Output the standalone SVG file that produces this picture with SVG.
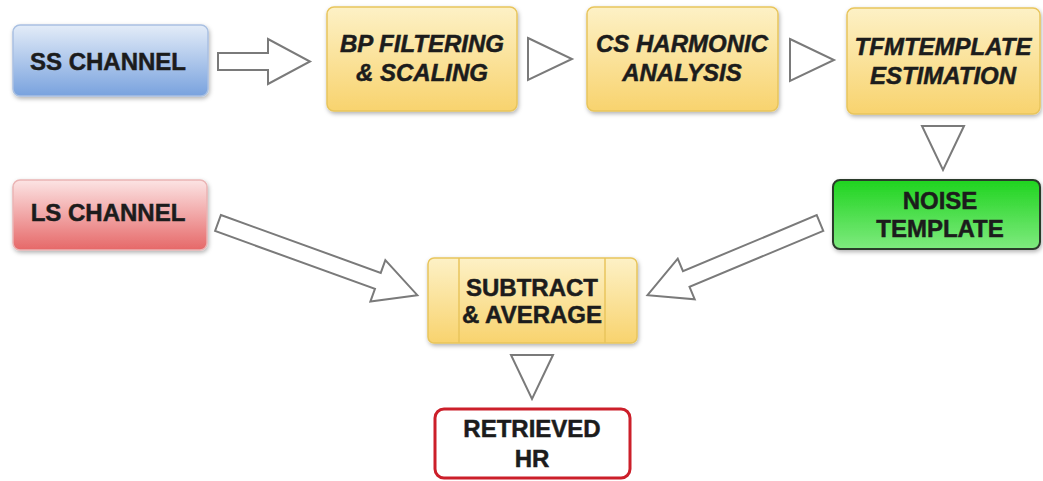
<svg xmlns="http://www.w3.org/2000/svg" width="1043" height="481" viewBox="0 0 1043 481">
<defs>
<linearGradient id="gY" x1="0" y1="0" x2="0" y2="1"><stop offset="0" stop-color="#fdf1c6"/><stop offset="1" stop-color="#f8d36e"/></linearGradient>
<linearGradient id="gB" x1="0" y1="0" x2="0" y2="1"><stop offset="0" stop-color="#e3ecf8"/><stop offset="1" stop-color="#79a2de"/></linearGradient>
<linearGradient id="gR" x1="0" y1="0" x2="0" y2="1"><stop offset="0" stop-color="#fce4e4"/><stop offset="1" stop-color="#e66868"/></linearGradient>
<linearGradient id="gG" x1="0" y1="0" x2="0" y2="1"><stop offset="0" stop-color="#1fd41f"/><stop offset="1" stop-color="#7fea7f"/></linearGradient>
<filter id="sh" x="-10%" y="-10%" width="120%" height="130%"><feDropShadow dx="1" dy="2" stdDeviation="2" flood-color="#000" flood-opacity="0.3"/></filter>
<polygon id="tri" points="0,0 44,21 0,42"/>
</defs>
<style>
text{font-family:"Liberation Sans",Arial,sans-serif;font-weight:bold;font-size:24px;fill:#1c1c1c;stroke:#1c1c1c;stroke-width:0.5;text-anchor:middle}
.it{font-style:italic}
.y{fill:url(#gY);stroke:#e8c55c;stroke-width:1.5}
.arr{fill:#fff;stroke:#7a7a7a;stroke-width:2;stroke-linejoin:miter}
</style>
<g id="connectors">
<polygon class="arr" transform="translate(218,61.5)" points="0,-8.5 50,-8.5 50,-22.5 92,0 50,22.5 50,8.5 0,8.5"/>
<use href="#tri" class="arr" transform="translate(528,38)"/>
<use href="#tri" class="arr" transform="translate(790,39)"/>
<use href="#tri" class="arr" transform="translate(922,126) rotate(90) translate(0,-42)"/>
<polygon class="arr" transform="translate(218,223) rotate(19.9)" points="0,-8.5 170,-8.5 170,-22 212,0 170,22 170,8.5 0,8.5"/>
<polygon class="arr" transform="translate(820,223) rotate(157.3)" points="0,-8.5 145,-8.5 145,-22 187,0 145,22 145,8.5 0,8.5"/>
<use href="#tri" class="arr" transform="translate(512,355) rotate(90) translate(0,-41)"/>
</g>
<g id="ss">
<rect x="13" y="25" width="195" height="71" rx="7" fill="url(#gB)" stroke="#a9c0e2" stroke-width="1.5" filter="url(#sh)"/>
<text x="108" y="70">SS CHANNEL</text>
</g>
<g id="bp">
<rect class="y" x="327" y="7" width="190" height="104" rx="7" filter="url(#sh)"/>
<text class="it" x="422" y="52">BP FILTERING</text>
<text class="it" x="422" y="81">&amp; SCALING</text>
</g>
<g id="cs">
<rect class="y" x="587" y="7" width="191" height="104" rx="7" filter="url(#sh)"/>
<text class="it" x="682" y="52">CS HARMONIC</text>
<text class="it" x="682" y="81">ANALYSIS</text>
</g>
<g id="tfm">
<rect class="y" x="847" y="8" width="193" height="106" rx="7" filter="url(#sh)"/>
<text class="it" x="943" y="55">TFMTEMPLATE</text>
<text class="it" x="943" y="84">ESTIMATION</text>
</g>
<g id="noise">
<rect x="833" y="180" width="207" height="69" rx="7" fill="url(#gG)" stroke="#2b3a2b" stroke-width="2" filter="url(#sh)"/>
<text x="940" y="209">NOISE</text>
<text x="940" y="237">TEMPLATE</text>
</g>
<g id="ls">
<rect x="13" y="180" width="194" height="70" rx="7" fill="url(#gR)" stroke="#eab4b4" stroke-width="1.5" filter="url(#sh)"/>
<text x="108" y="221">LS CHANNEL</text>
</g>
<g id="sub">
<rect class="y" x="428" y="258" width="209" height="85" rx="6" filter="url(#sh)"/>
<line x1="459" y1="258" x2="459" y2="343" stroke="#e8c55c" stroke-width="1.5"/>
<line x1="605" y1="258" x2="605" y2="343" stroke="#e8c55c" stroke-width="1.5"/>
<text x="532" y="296">SUBTRACT</text>
<text x="532" y="323">&amp; AVERAGE</text>
</g>
<g id="hr">
<rect x="435" y="409" width="195" height="69" rx="9" fill="#fff" stroke="#cc1f2a" stroke-width="3"/>
<text x="532" y="437">RETRIEVED</text>
<text x="532" y="467">HR</text>
</g>
</svg>
